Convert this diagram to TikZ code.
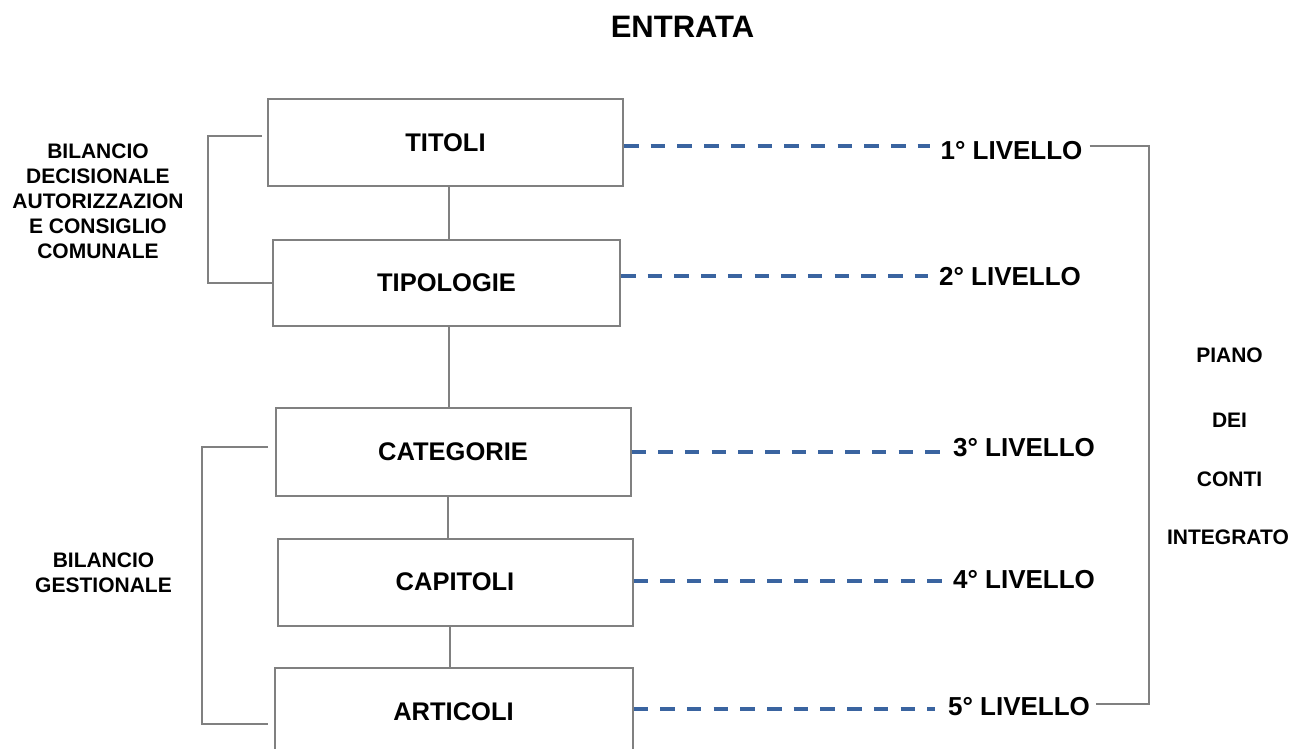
\documentclass[tikz,border=0pt]{standalone}
\usepackage{fontspec}
\setmainfont{Liberation Sans}
\usetikzlibrary{positioning,calc}
\definecolor{lineGray}{RGB}{128,128,128}
\definecolor{levBlue}{RGB}{58,100,160}
\tikzset{bilpanel/.style={
  x=1pt, y=-1pt,
  font=\bfseries,
  box/.style={draw=lineGray, line width=2pt, fill=white, inner sep=0pt, font=\bfseries\fontsize{25.5}{30}\selectfont},
  link/.style={draw=lineGray, line width=2pt},
  dashlink/.style={draw=levBlue, line width=3.7pt, dash pattern=on 14.5pt off 12.2pt},
  lev/.style={inner sep=0pt, font=\bfseries\fontsize{26}{30}\selectfont},
  side/.style={inner sep=0pt, align=center, font=\bfseries\fontsize{21}{25}\selectfont},
}}
\begin{document}
\begin{tikzpicture}[bilpanel]
\useasboundingbox (0,0) rectangle (1291,749);
% =====================================================================
%  title and the five boxes
% =====================================================================
\node[inner sep=0pt, font=\bfseries\fontsize{31}{36}\selectfont] (title) at (682.5,26.5) {ENTRATA};

\node[box, minimum width=355pt, minimum height=87pt] (titoli)    at (445.5,142.5) {TITOLI};
\node[box, minimum width=347pt, minimum height=86pt] (tipologie) at (446.5,283)   {TIPOLOGIE};
\node[box, minimum width=355pt, minimum height=88pt] (categorie) at (453,452)     {CATEGORIE};
\node[box, minimum width=355pt, minimum height=87pt] (capitoli)  at (455,582)     {CAPITOLI};
\node[box, minimum width=358pt, minimum height=88pt] (articoli)  at (453.5,712)   {ARTICOLI};

\draw[link] ([xshift=3.5pt]titoli.south)    -- ([xshift=3.5pt]titoli.south |- tipologie.north);
\draw[link] ([xshift=2.5pt]tipologie.south) -- ([xshift=2.5pt]tipologie.south |- categorie.north);
\draw[link] ([xshift=-5pt]categorie.south)  -- ([xshift=-5pt]categorie.south |- capitoli.north);
\draw[link] ([xshift=-5pt]capitoli.south)   -- ([xshift=-5pt]capitoli.south |- articoli.north);

% =====================================================================
%  left: the two budget groups
% =====================================================================
\node[side] (decis) at (98,201.5) {BILANCIO\\DECISIONALE\\AUTORIZZAZION\\E CONSIGLIO\\COMUNALE};
\node[side] (gest)  at (103.5,573) {BILANCIO\\GESTIONALE};

\coordinate (lb1) at (262,136);
\coordinate (lb2) at (268,447);
\coordinate (lb3) at (268,724);
\draw[link] (lb1) -- ++(-54,0) |- (tipologie.west);
\draw[link] (lb2) -- ++(-66,0) |- (lb3);

% =====================================================================
%  right: levels of the piano dei conti
% =====================================================================
\node[lev] (lev1) at (1011.5,150.5) {1° LIVELLO};
\node[lev] (lev2) at (1010,277)     {2° LIVELLO};
\node[lev] (lev3) at (1024,448)     {3° LIVELLO};
\node[lev] (lev4) at (1024,580)     {4° LIVELLO};
\node[lev] (lev5) at (1019,706.5)   {5° LIVELLO};

\coordinate (d1) at (930,146);
\coordinate (d2) at (928,276);
\coordinate (d3) at (942,452);
\coordinate (d4) at (942,581);
\coordinate (d5) at (935,709);
\draw[dashlink] (titoli.east |- d1)    -- (d1);
\draw[dashlink] (tipologie.east |- d2) -- (d2);
\draw[dashlink] (categorie.east |- d3) -- (d3);
\draw[dashlink] (capitoli.east |- d4)  -- (d4);
\draw[dashlink] (articoli.east |- d5)  -- (d5);

\coordinate (pc1) at (1149,146);
\coordinate (pc5) at (1149,704);
\draw[link] ([xshift=7pt]lev1.east |- pc1) -- (pc1) -- (pc5) -- ([xshift=6pt]lev5.east |- pc5);

\node[side] (piano) at (1229.5,355.5) {PIANO};
\node[side] (dei)   at (1229.5,420)   {DEI};
\node[side] (conti) at (1229.5,479.5) {CONTI};
\node[side] (integ) at (1228,537.5)   {INTEGRATO};
\end{tikzpicture}
\end{document}
